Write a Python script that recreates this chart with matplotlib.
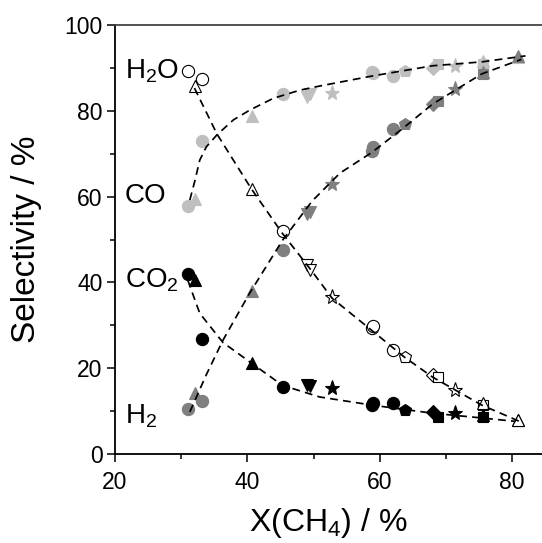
#!/usr/bin/env python3
"""Selectivity vs methane conversion, with dashed guide curves."""
import matplotlib

matplotlib.use("Agg")

import matplotlib.pyplot as plt

# shared conversion points and marker shape of each catalyst run
X_CH4 = [31.0, 32.1, 33.1, 40.7, 45.4, 49.0, 49.4, 52.8, 58.8, 59.0,
         62.0, 63.8, 68.0, 68.8, 71.4, 75.6, 75.6, 80.9]
MARKERS = ["o", "^", "o", "^", "o", "v", "v", "*", "o", "o",
           "o", "p", "D", "s", "*", "s", "^", "^"]

S_CO = [57.9, 59.5, 73.0, 78.8, 84.0, 83.2, 83.8, 84.2, 89.0, 88.7,
        88.0, 89.3, 90.0, 91.0, 90.5, 90.8, 91.6, 92.6]
S_H2 = [10.4, 14.2, 12.3, 38.0, 47.6, 56.0, 56.5, 63.0, 70.7, 71.5,
        75.7, 77.0, 81.6, 82.3, 85.0, 88.6, 89.0, 92.8]
S_CO2 = [41.9, 40.5, 26.7, 21.3, 15.7, 16.0, 15.8, 15.3, 11.4, 11.8,
         12.0, 10.2, 9.8, 8.7, 9.5, 8.6, 9.0, 7.9]
S_H2O = [89.3, 85.8, 87.4, 61.8, 52.0, 44.0, 42.8, 36.6, 29.3, 29.8,
         24.2, 22.6, 18.4, 17.9, 14.9, 11.4, 12.0, 7.9]

# dashed guide curves
FIT_CO_X = [31.3, 32.1, 32.8, 33.8, 35.4, 37.9, 40.4, 43.9, 47.9, 51.0, 58.8, 68.0, 75.4, 82.0]
FIT_CO_Y = [59.2, 63.9, 68.5, 71.6, 74.4, 77.9, 80.2, 82.9, 84.8, 85.8, 88.1, 90.5, 91.4, 92.8]
FIT_H2_X = [31.3, 33.8, 36.3, 40.3, 45.3, 49.8, 54.0, 58.8, 63.4, 68.0, 75.4, 81.4]
FIT_H2_Y = [9.8, 18.5, 26.5, 37.4, 49.8, 59.0, 65.5, 70.3, 75.8, 81.6, 88.6, 92.0]
FIT_H2O_X = [32.0, 35.4, 40.6, 45.3, 49.8, 52.8, 58.8, 63.7, 68.0, 75.4, 81.4]
FIT_H2O_Y = [85.3, 74.6, 61.8, 51.4, 42.5, 36.3, 28.8, 22.6, 17.9, 11.4, 7.4]
FIT_CO2_X = [31.0, 32.8, 36.3, 40.6, 45.3, 50.9, 58.8, 68.0, 75.4, 80.5]
FIT_CO2_Y = [40.5, 32.8, 26.0, 21.2, 16.0, 13.3, 11.4, 9.5, 8.4, 7.6]

LABELS = ["H$_2$O", "CO", "CO$_2$", "H$_2$"]
LABEL_Y = [87.6, 58.5, 38.7, 7.2]

plt.rcParams["font.family"] = ["Liberation Sans", "DejaVu Sans"]
plt.rcParams["mathtext.fontset"] = "custom"
plt.rcParams["mathtext.rm"] = "Liberation Sans"
plt.rcParams["mathtext.it"] = "Liberation Sans:italic"

fig = plt.figure(figsize=(5.42, 5.43), dpi=100)
ax = fig.add_axes([115 / 542, 89 / 543, 1 - 115 / 542, 429 / 543])

series = [
    (S_CO, "#bfbfbf", "#bfbfbf"),
    (S_H2, "#7f7f7f", "#7f7f7f"),
    (S_CO2, "black", "black"),
    (S_H2O, "white", "black"),
]
for vals, face, edge in series:
    for x, y, m in zip(X_CH4, vals, MARKERS):
        ms = 11 if m == "*" else (7.5 if m in ("D", "s") else 8.8)
        ax.plot(x, y, marker=m, ms=ms, mfc=face, mec=edge,
                mew=0.8, ls="none", zorder=2)

for fx, fy in [(FIT_CO_X, FIT_CO_Y), (FIT_H2_X, FIT_H2_Y),
               (FIT_H2O_X, FIT_H2O_Y), (FIT_CO2_X, FIT_CO2_Y)]:
    ax.plot(fx, fy, color="black", lw=1.25, ls=(0, (4.5, 3)), zorder=3)

for text, y in zip(LABELS, LABEL_Y):
    ax.text(21.5, y, text, fontsize=20, va="baseline", ha="left")

ax.set_xlim(20, 84.5)
ax.set_ylim(0, 100)
ax.set_xticks([20, 40, 60, 80])
ax.set_xticks([30, 50, 70], minor=True)
ax.set_yticks([0, 20, 40, 60, 80, 100])
ax.set_yticks([10, 30, 50, 70, 90], minor=True)
ax.tick_params(which="major", length=6, width=1.1, labelsize=16.5, pad=3)
ax.tick_params(axis="x", which="major", pad=6)
ax.tick_params(which="minor", length=3.5, width=1.1)
ax.spines["right"].set_visible(False)
for side in ("left", "bottom", "top"):
    ax.spines[side].set_linewidth(1.3)
ax.spines["top"].set_color("#444444")

ax.set_xlabel("X(CH$_4$) / %", fontsize=23)
ax.set_ylabel("Selectivity / %", fontsize=24)
ax.xaxis.set_label_coords(0.5, -0.122)
ax.yaxis.set_label_coords(-0.172, 0.5)

fig.savefig("out.png", dpi=100)
